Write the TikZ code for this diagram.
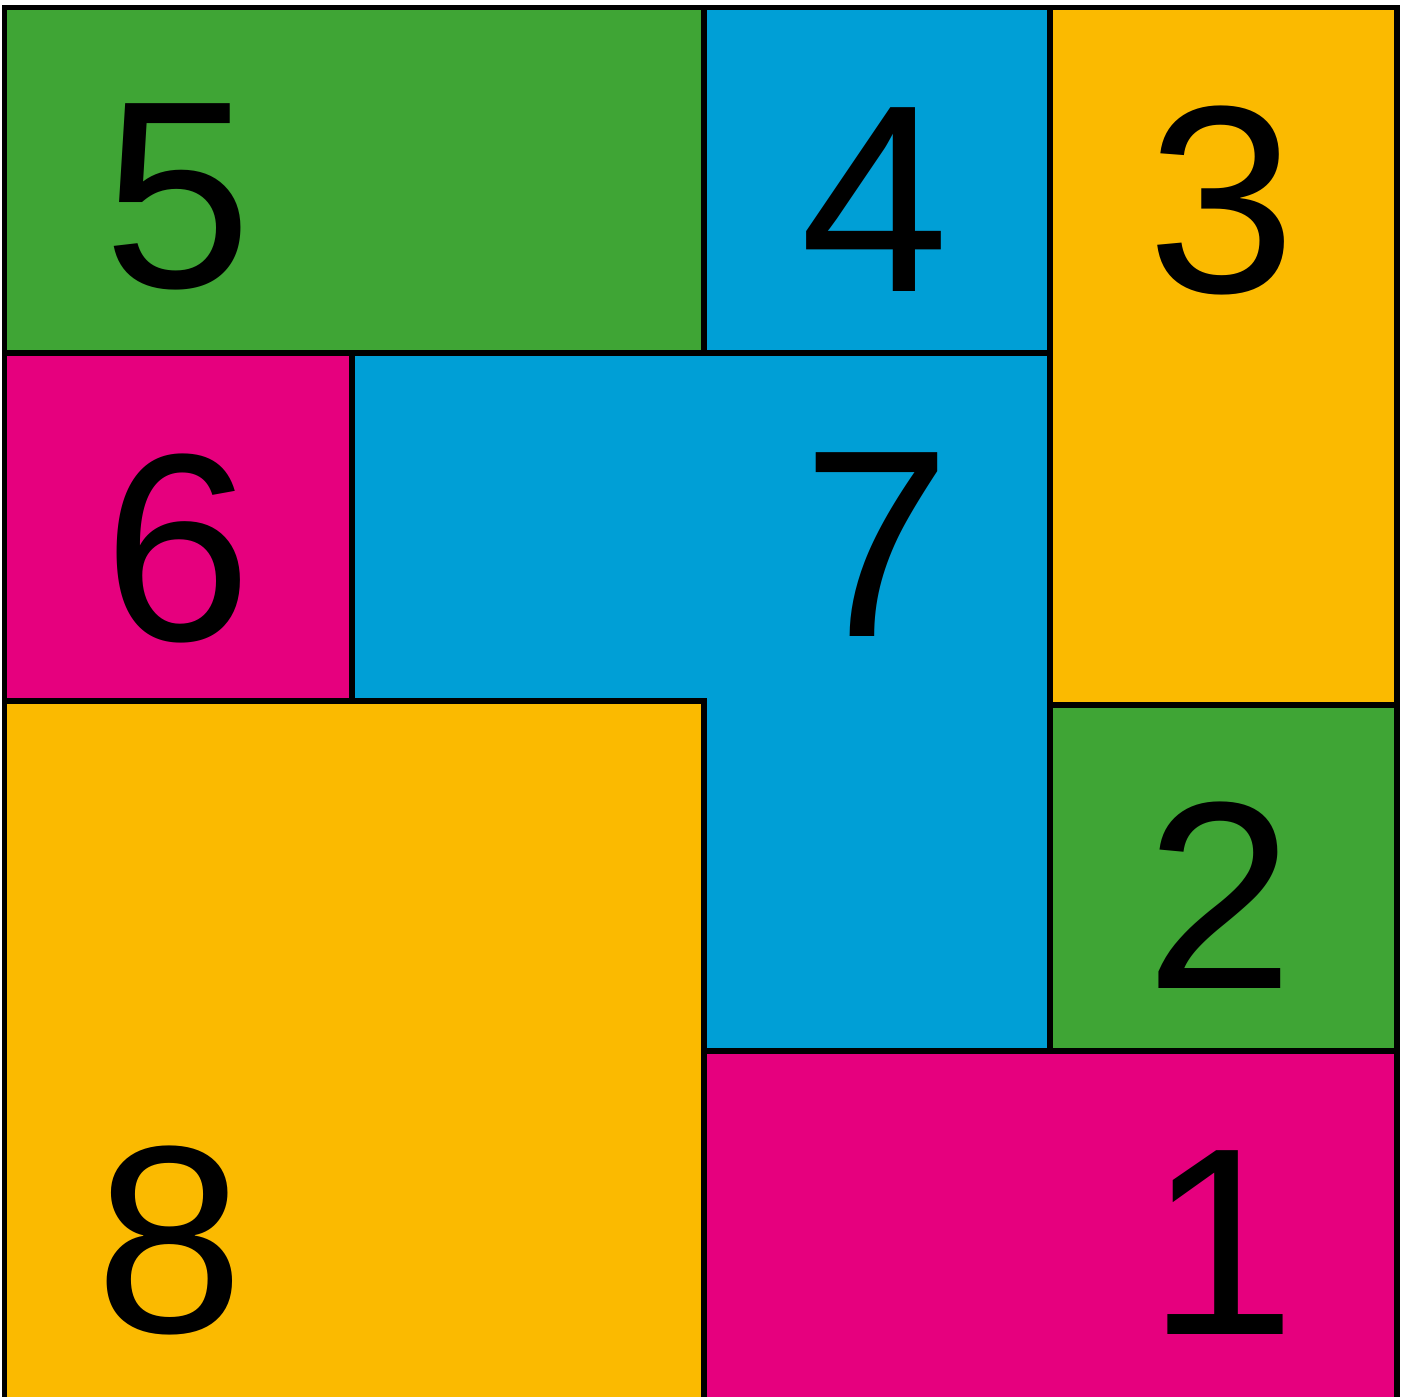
\documentclass[tikz,border=0pt]{standalone}
\usepackage{tikz}
\usepackage{fontspec}
\setmainfont{Liberation Sans}
\definecolor{grn}{HTML}{3FA535}
\definecolor{blu}{HTML}{009FD6}
\definecolor{org}{HTML}{FBBA00}
\definecolor{mag}{HTML}{E6007E}

\begin{document}
\begin{tikzpicture}[x=0.01cm,y=-0.01cm,
	piece/.style={draw=black,line width=1.45pt,line join=miter},
	num/.style={font=\fontsize{76}{76}\selectfont,inner sep=0pt}]
%
	\useasboundingbox (0,0) rectangle (1406,1396);
	\clip (0,0) rectangle (1406,1396);
%
	\draw[piece,fill=grn] (4.5,7.5) rectangle (704,353);
	\draw[piece,fill=blu] (704,7.5) rectangle (1050,353);
	\draw[piece,fill=org] (1050,7.5) rectangle (1397,705);
	\draw[piece,fill=mag] (4.5,353) rectangle (352,701);
	\draw[piece,fill=blu] (352,353) -- (1050,353) -- (1050,1051) -- (704,1051)
		-- (704,701) -- (352,701) -- cycle;
	\draw[piece,fill=org] (4.5,701) rectangle (704,1420);
	\draw[piece,fill=grn] (1050,705) rectangle (1397,1051);
	\draw[piece,fill=mag] (704,1051) rectangle (1397,1420);
%
	\node[num] (n5) at (178,197) {5};
	\node[num] (n4) at (875,200) {4};
	\node[num] (n3) at (1222,200) {3};
	\node[num] (n6) at (178,548) {6};
	\node[num] (n7) at (877,545) {7};
	\node[num] (n2) at (1220,895) {2};
	\node[num] (n8) at (170,1240) {8};
	\node[num] (n1) at (1222,1243) {1};
\end{tikzpicture}
\end{document}
